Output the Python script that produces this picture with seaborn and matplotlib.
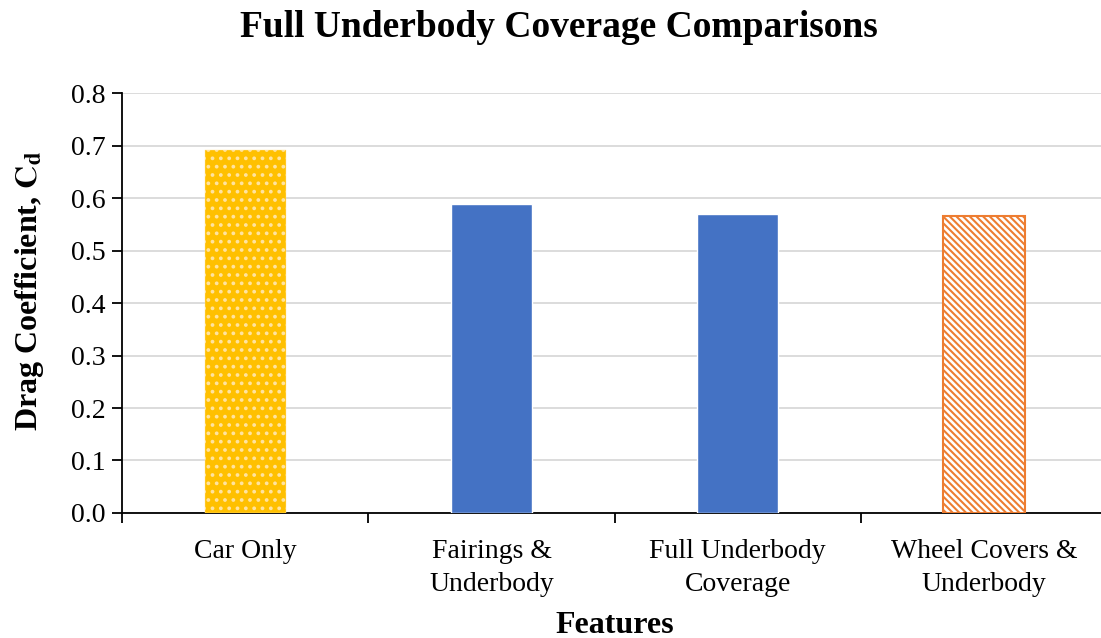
import numpy as np
import pandas as pd
import seaborn as sns
import matplotlib.pyplot as plt
from matplotlib.ticker import FixedLocator

categories = ["Car Only", "Fairings &\nUnderbody", "Full Underbody\nCoverage", "Wheel Covers &\nUnderbody"]
drag_coeff = [0.691, 0.588, 0.569, 0.566]
y_ticks = [0.0, 0.1, 0.2, 0.3, 0.4, 0.5, 0.6, 0.7, 0.8]

sns.set_theme(style="white")
plt.rcParams["font.family"] = ["Liberation Serif", "DejaVu Serif"]
plt.rcParams["mathtext.fontset"] = "stix"
plt.rcParams["hatch.linewidth"] = 1.5
plt.rcParams["text.color"] = "black"
plt.rcParams["axes.labelcolor"] = "black"
plt.rcParams["xtick.color"] = "black"
plt.rcParams["ytick.color"] = "black"

df = pd.DataFrame({"feature": categories, "cd": drag_coeff})

fig = plt.figure(figsize=(11.01, 6.38), dpi=100)
ax = fig.add_axes([0.111, 0.196, 0.8946, 0.658])

sns.barplot(data=df, x="feature", y="cd", ax=ax, width=0.33,
            color="#4472C4", saturation=1, zorder=3)

bars = ax.patches
bars[0].set_facecolor("#FFC000")
bars[0].set_edgecolor("#FFE3A0")
bars[0].set_hatch("..")
bars[0].set_linewidth(0.3)
bars[3].set_facecolor("white")
bars[3].set_edgecolor("#ED7D31")
bars[3].set_hatch("\\\\\\\\\\")
bars[3].set_linewidth(1.5)

ax.set_ylim(0, 0.8)
ax.set_xlim(-0.5, 3.5)
ax.set_yticks(y_ticks)
ax.set_yticklabels([f"{v:.1f}" for v in y_ticks])
ax.yaxis.grid(True, color="#D9D9D9", linewidth=1.3, zorder=0)
ax.set_axisbelow(True)

for side in ["top", "right"]:
    ax.spines[side].set_visible(False)
for side in ["left", "bottom"]:
    ax.spines[side].set_color("black")
    ax.spines[side].set_linewidth(1.3)

ax.tick_params(axis="y", direction="out", length=7, width=1.3,
               labelsize=20, pad=5, left=True)
ax.tick_params(axis="x", which="major", length=0, labelsize=20, pad=19)
ax.xaxis.set_minor_locator(FixedLocator(np.arange(-0.5, 4.0, 1.0)))
ax.tick_params(axis="x", which="minor", direction="out", length=7, width=1.3,
               bottom=True)
for lbl in ax.get_xticklabels():
    lbl.set_linespacing(1.4)

ax.set_xlabel("Features", fontsize=23, fontweight="bold", labelpad=10)
ax.set_ylabel(r"Drag Coefficient, $\mathbf{C_d}$", fontsize=23, fontweight="bold")
ax.yaxis.set_label_coords(-0.077, 0.53)
fig.suptitle("Full Underbody Coverage Comparisons", fontsize=27, fontweight="bold",
             x=0.508, y=0.985)

fig.savefig("out.png", dpi=100)
